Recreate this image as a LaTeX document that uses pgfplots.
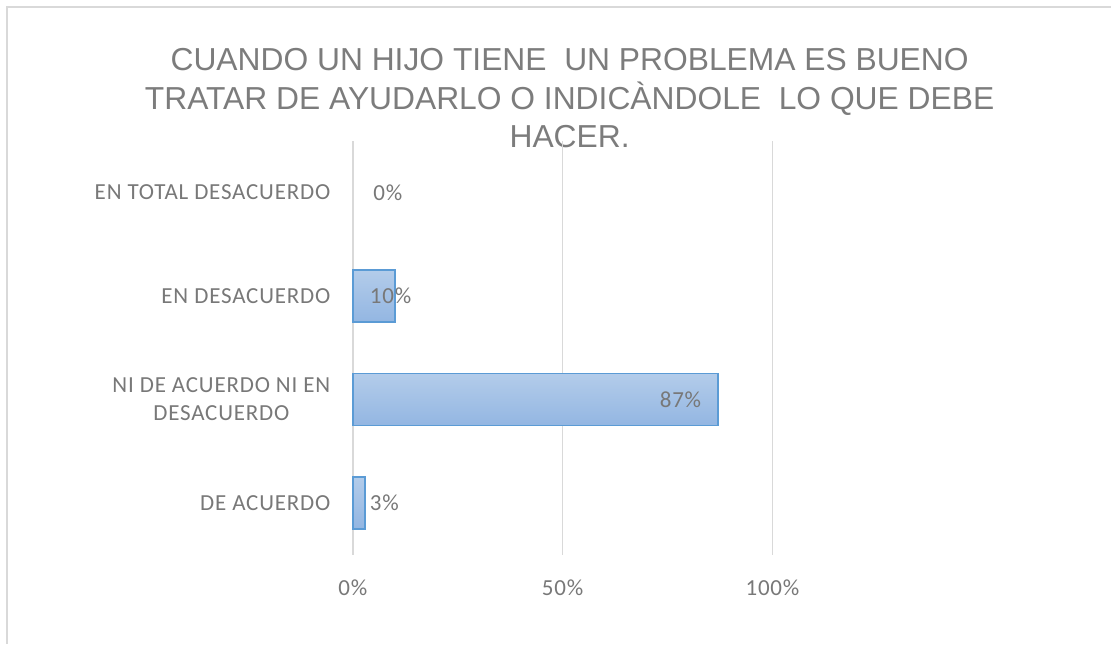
\documentclass[border=0pt]{standalone}
\usepackage{fontspec}
\setmainfont[LetterSpace=3.5]{Carlito}
\newfontfamily\titlefont{Liberation Sans}
\usepackage{pgfplots}
\pgfplotsset{compat=1.18}
\definecolor{txt}{HTML}{787878}
\definecolor{ttl}{HTML}{7C7C7C}
\definecolor{grd}{HTML}{D9D9D9}
\definecolor{bartop}{HTML}{B3CCEA}
\definecolor{barbot}{HTML}{93B6E2}
\definecolor{barln}{HTML}{5B9BD5}
\tikzset{mybar/.style={xbar, bar width=26pt, bar shift=0pt, draw=barln, line width=0.9pt, top color=bartop, bottom color=barbot}}
\begin{document}
\begin{tikzpicture}
\path (0pt,0pt) rectangle (556pt,322pt);
\draw[grd, line width=0.75pt] (3.5pt,0pt) -- (3.5pt,318.5pt) -- (556pt,318.5pt);
\node[anchor=north, align=center, inner sep=0pt, text=ttl,
      font=\titlefont\fontsize{15.9pt}{19.3pt}\selectfont]
  at (285pt,298pt) {CUANDO UN HIJO TIENE \ UN PROBLEMA ES BUENO\\TRATAR DE AYUDARLO O INDICÀNDOLE \ LO QUE DEBE\\HACER.};
\begin{axis}[
  at={(176.5pt,44.5pt)}, anchor=south west,
  scale only axis, width=210pt, height=207pt,
  xmin=0, xmax=1, ymin=-0.5, ymax=3.5,
  axis line style={draw=none},
  major tick length=0pt,
  xmajorgrids, major grid style={grd, line width=0.75pt},
  xtick={0,0.5,1}, xticklabels={0\%,50\%,100\%},
  ytick={0,1,2,3},
  yticklabels={DE ACUERDO, {NI DE ACUERDO NI EN\\DESACUERDO}, EN DESACUERDO, EN TOTAL DESACUERDO},
  yticklabel style={align=center, text=txt, font=\fontsize{11.5pt}{14pt}\selectfont, xshift=-7.7pt},
  xticklabel style={text=txt, font=\fontsize{11.5pt}{14pt}\selectfont, yshift=-9pt},
  clip=false,
]
\addplot[mybar] coordinates {(0.03,0)};
\addplot[mybar] coordinates {(0.87,1)};
\addplot[mybar] coordinates {(0.10,2)};
\begin{scope}[every node/.style={inner sep=0pt, text=txt, font=\fontsize{11.5pt}{14pt}\selectfont}]
\node[anchor=west] at (axis cs:0.048,3) {0\%};
\node[anchor=west] at (axis cs:0.040,2) {10\%};
\node[anchor=east] at (axis cs:0.831,1) {87\%};
\node[anchor=west] at (axis cs:0.040,0) {3\%};
\end{scope}
\end{axis}
\end{tikzpicture}
\end{document}
